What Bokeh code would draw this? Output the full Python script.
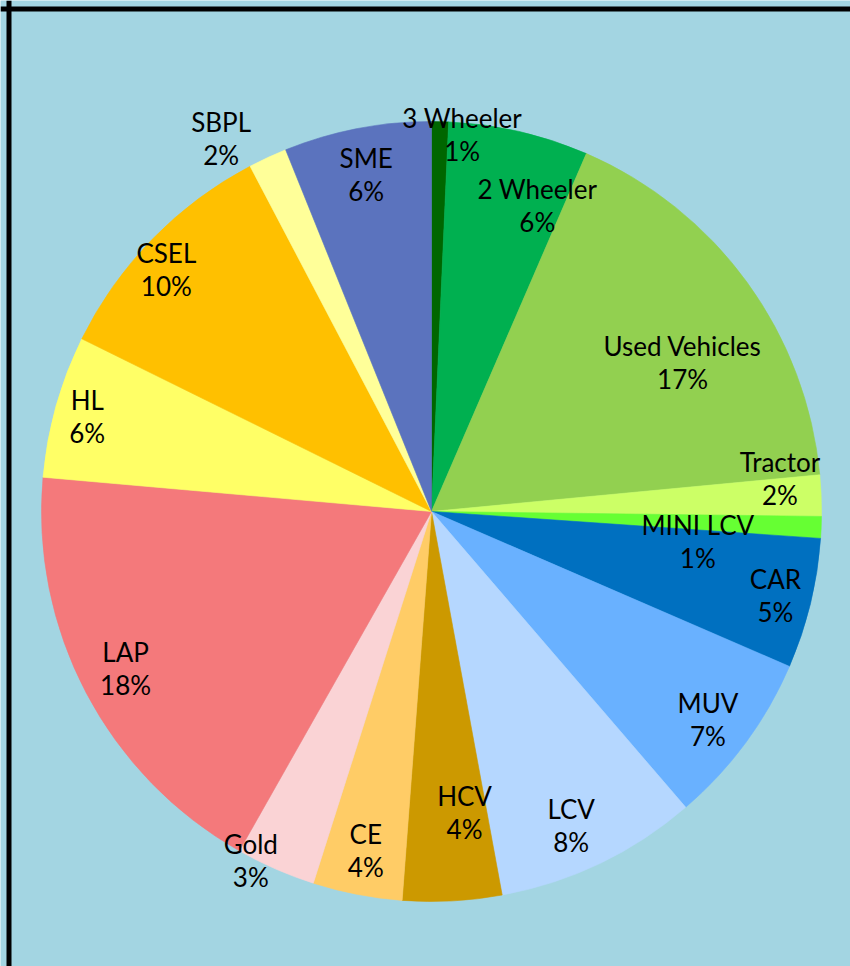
import math
from bokeh.plotting import figure
from bokeh.models import ColumnDataSource, Range1d, Span
from bokeh.core.properties import value
from bokeh.embed import file_html
from bokeh.resources import INLINE

# ---- data (clockwise from 12 o'clock) ----
categories = ["3 Wheeler", "2 Wheeler", "Used Vehicles", "Tractor", "MINI LCV", "CAR",
              "MUV", "LCV", "HCV", "CE", "Gold", "LAP", "HL", "CSEL", "SBPL", "SME"]
shares = [0.7, 5.8, 17.0, 1.7, 0.9, 5.4, 7.2, 8.4, 4.1, 3.7, 3.3, 18.2, 5.9, 10.0, 1.6, 6.1]
colors = ["#006600", "#00B050", "#92D050", "#CCFF66", "#66FF33", "#0070C0",
          "#69B1FF", "#B5D7FF", "#CC9900", "#FFCC66", "#FAD3D5", "#F4797B",
          "#FFFF66", "#FFC000", "#FFFF99", "#5B73BE"]

# ---- layout (label placement: radius in px, angular nudge in degrees) ----
label_r = [378, 324, 292, 350, 268, 354, 346, 344, 303, 345, 393, 344, 357, 359, 428, 343]
label_da = [3.4, 6.1, 5.3, -3.1, 4.1, 0, 0.6, 1.6, -3.2, 0, 3.8, 0.5, -0.3, -1.9, -4.6, 0]

W, H = 850, 966
CX, CY, R = 431, 966 - 511, 390
BG = "#A3D5E2"

total = sum(shares)
starts, ends, lx, ly, pct = [], [], [], [], []
cum = 0.0
for i, s in enumerate(shares):
    a0 = cum / total
    cum += s
    a1 = cum / total
    starts.append(math.pi / 2 - 2 * math.pi * a0)
    ends.append(math.pi / 2 - 2 * math.pi * a1)
    mid_deg = (a0 + a1) / 2 * 360 + label_da[i]
    th = math.radians(mid_deg)
    lx.append(CX + label_r[i] * math.sin(th))
    ly.append(CY + label_r[i] * math.cos(th))
    pct.append(f"{round(s / total * 100):d}%")

src = ColumnDataSource(dict(cat=categories, start=starts, end=ends, color=colors,
                            lx=lx, ly=ly, pct=pct))

p = figure(width=W, height=H, x_range=Range1d(0, W), y_range=Range1d(0, H),
           output_backend="svg", toolbar_location=None, min_border=0)
p.background_fill_color = BG
p.border_fill_color = BG
p.outline_line_color = None
p.axis.visible = False
p.xgrid.visible = False
p.ygrid.visible = False

p.wedge(x=CX, y=CY, radius=R, start_angle="start", end_angle="end", direction="clock",
        fill_color="color", line_color="color", line_width=0.6, source=src)

font = value("Lato")
p.text(x="lx", y="ly", text="cat", source=src, text_align="center", text_baseline="middle",
       text_font=font, text_font_size="26px", text_color="black", y_offset=-16.5)
p.text(x="lx", y="ly", text="pct", source=src, text_align="center", text_baseline="middle",
       text_font=font, text_font_size="26px", text_color="black", y_offset=16.5)

p.add_layout(Span(location=H - 8.5, dimension="width", line_color="black", line_width=5))
p.add_layout(Span(location=8.5, dimension="height", line_color="black", line_width=5))

open("out.html", "w").write(file_html(p, INLINE))
